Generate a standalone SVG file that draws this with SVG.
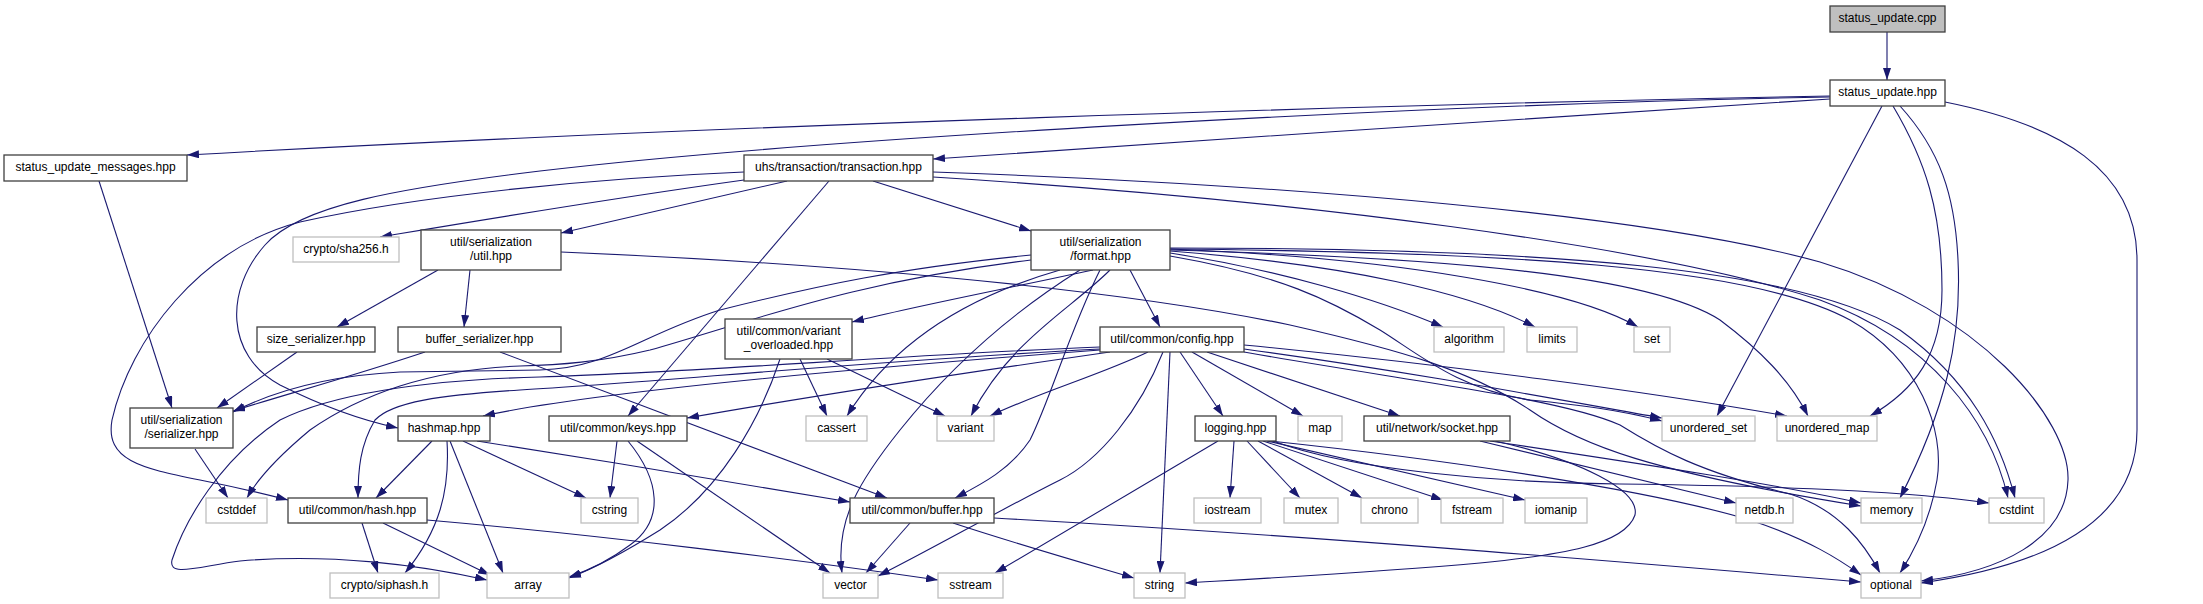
<svg xmlns="http://www.w3.org/2000/svg" width="2203" height="604" viewBox="0 0 2203 604">
<style>
.n rect{fill:#fff;stroke:#404040;stroke-width:1.3}
.g rect{fill:#fff;stroke:#bfbfbf;stroke-width:1.3}
.r rect{fill:#bfbfbf;stroke:#404040;stroke-width:1.3}
text{font-family:"Liberation Sans",Arial,sans-serif;font-size:12px;text-anchor:middle;fill:#000}
.e path{fill:none;stroke:#191970;stroke-width:1.1;marker-end:url(#a)}
</style>
<defs>
<marker id="a" viewBox="0 0 12 8" refX="12" refY="4" markerWidth="12" markerHeight="8" markerUnits="userSpaceOnUse" orient="auto"><path d="M0,0 L12,4 L0,8 z" fill="#191970"/></marker>
</defs>
<rect width="2203" height="604" fill="#fff"/>
<g id="edges" class="e">
<path d="M1887,32 L1887,80"/>
<path d="M1830,96 C1400,104 700,126 187,155"/>
<path d="M1830,99 C1600,114 1200,140 933,159"/>
<path d="M1830,97 C1400,105 800,140 540,171 C400,188 300,205 265,245 C225,290 225,355 280,385 C320,405 360,420 398,428"/>
<path d="M1882,106 L1717,416"/>
<path d="M1893,106 C1925,160 1942,210 1942,290 C1942,355 1915,390 1870,416"/>
<path d="M1900,106 C1940,150 1955,195 1958,260 C1962,340 1945,410 1900,498"/>
<path d="M1945,102 C2060,125 2137,170 2137,260 L2137,430 C2137,520 2050,565 1921,583"/>
<path d="M99,181 L172,408"/>
<path d="M744,180 C600,200 470,222 380,237"/>
<path d="M787,181 L561,233"/>
<path d="M873,181 L1031,231"/>
<path d="M829,181 L628,416"/>
<path d="M744,172 C600,178 420,195 300,222 C200,248 130,340 112,420 C105,460 140,468 200,480 C240,488 265,494 288,500"/>
<path d="M933,172 C1300,185 1650,215 1820,262 C1980,310 2070,420 2068,480 C2066,540 2000,572 1921,581"/>
<path d="M933,177 C1300,200 1650,245 1820,300 C1930,340 1990,420 2008,498"/>
<path d="M438,270 L337,327"/>
<path d="M470,270 L464,327"/>
<path d="M561,252 C800,262 1100,285 1290,325 C1400,350 1470,370 1530,410 C1580,445 1650,472 1861,506"/>
<path d="M297,352 L217,408"/>
<path d="M425,352 C350,377 280,396 233,411"/>
<path d="M500,352 L887,498"/>
<path d="M1031,255 C900,268 820,285 720,310 C640,335 610,368 540,370 L400,372 C320,376 270,393 233,412"/>
<path d="M1031,260 C850,282 750,322 650,350 C600,362 560,365 520,366 C430,369 360,395 310,430 C280,455 258,478 247,498"/>
<path d="M1100,347 C900,355 700,372 540,377 C420,380 330,395 280,420 C220,460 185,520 172,560 C168,578 200,566 240,561 C330,553 420,565 487,580"/>
<path d="M1100,350 C900,365 600,390 483,416"/>
<path d="M1110,352 C950,375 800,398 687,418"/>
<path d="M1100,349 C850,362 650,383 520,390 C440,395 392,402 375,420 C360,445 358,470 358,498"/>
<path d="M1148,352 C1100,375 1040,392 990,416"/>
<path d="M1163,352 C1140,410 1100,460 1060,480 C1000,510 930,550 878,576"/>
<path d="M1170,352 L1160,573"/>
<path d="M1180,352 L1223,416"/>
<path d="M1192,352 L1303,416"/>
<path d="M1207,352 L1400,416"/>
<path d="M1244,345 C1450,365 1650,392 1787,416"/>
<path d="M1244,349 C1400,370 1550,398 1662,418"/>
<path d="M1244,352 C1400,380 1560,398 1620,425 C1660,450 1700,472 1790,494 C1840,510 1865,545 1880,573"/>
<path d="M1170,253 C1280,270 1380,300 1443,327"/>
<path d="M1170,251 C1350,265 1470,293 1535,327"/>
<path d="M1170,249 C1400,258 1575,290 1638,327"/>
<path d="M1170,256 C1280,275 1330,300 1380,330 C1420,355 1460,390 1530,400 C1580,405 1620,410 1662,421"/>
<path d="M1170,250 C1450,258 1650,275 1720,320 C1760,350 1790,380 1808,416"/>
<path d="M1170,249 C1500,252 1750,265 1850,320 C1920,360 1945,430 1937,480 C1930,520 1915,550 1900,573"/>
<path d="M1170,248 C1550,248 1800,268 1900,330 C1970,380 2000,440 2015,498"/>
<path d="M1130,270 L1160,327"/>
<path d="M1093,270 C1000,290 920,305 852,322"/>
<path d="M1060,270 C990,290 900,330 847,416"/>
<path d="M1110,270 C1070,310 1010,340 971,416"/>
<path d="M1080,270 C1000,320 940,380 900,430 C860,480 835,520 842,573"/>
<path d="M1100,270 C1070,330 1050,400 1030,440 C1010,470 980,485 955,498"/>
<path d="M800,359 L827,416"/>
<path d="M827,359 L945,416"/>
<path d="M780,359 C760,420 720,490 660,530 C620,555 590,570 569,578"/>
<path d="M432,441 L376,498"/>
<path d="M447,441 C450,490 440,530 405,573"/>
<path d="M450,441 L503,573"/>
<path d="M463,441 L586,498"/>
<path d="M477,441 C600,460 750,485 850,502"/>
<path d="M362,523 L378,573"/>
<path d="M383,523 L490,575"/>
<path d="M427,520 C600,535 800,560 938,580"/>
<path d="M617,441 L610,498"/>
<path d="M628,441 C660,480 665,520 630,545 C610,560 590,570 569,577"/>
<path d="M637,441 L830,573"/>
<path d="M910,523 L866,573"/>
<path d="M953,523 C1020,545 1090,565 1134,578"/>
<path d="M994,518 C1300,535 1600,560 1861,582"/>
<path d="M195,449 L228,498"/>
<path d="M1234,441 L1230,498"/>
<path d="M1247,441 L1300,498"/>
<path d="M1258,441 L1362,498"/>
<path d="M1263,441 L1443,500"/>
<path d="M1267,441 L1525,500"/>
<path d="M1218,441 L995,573"/>
<path d="M1270,441 C1450,460 1650,490 1750,520 C1810,540 1840,560 1861,575"/>
<path d="M1273,441 C1350,470 1500,483 1620,484 C1800,486 1920,493 1989,503"/>
<path d="M1480,441 L1736,503"/>
<path d="M1490,441 C1650,465 1780,485 1861,503"/>
<path d="M1495,441 C1580,460 1640,490 1635,515 C1625,545 1560,555 1480,563 C1380,572 1270,578 1185,583"/>
</g>
<g id="n_cpp" class="r"><rect x="1830" y="6" width="115" height="26"/><text x="1887.5" y="21.5">status_update.cpp</text></g>
<g id="n_hpp" class="n"><rect x="1830" y="80" width="115" height="26"/><text x="1887.5" y="95.5">status_update.hpp</text></g>
<g id="n_msgs" class="n"><rect x="4" y="155" width="183" height="26"/><text x="95.5" y="170.5">status_update_messages.hpp</text></g>
<g id="n_tx" class="n"><rect x="744" y="155" width="189" height="26"/><text x="838.5" y="170.5">uhs/transaction/transaction.hpp</text></g>
<g id="n_sha" class="g"><rect x="293" y="237" width="106" height="25"/><text x="346" y="252.5">crypto/sha256.h</text></g>
<g id="n_util" class="n"><rect x="421" y="230" width="140" height="40"/><text x="491" y="245.5">util/serialization</text><text x="491" y="259.5">/util.hpp</text></g>
<g id="n_format" class="n"><rect x="1031" y="230" width="139" height="40"/><text x="1100.5" y="245.5">util/serialization</text><text x="1100.5" y="259.5">/format.hpp</text></g>
<g id="n_size" class="n"><rect x="257" y="327" width="118" height="25"/><text x="316" y="342.5">size_serializer.hpp</text></g>
<g id="n_bufser" class="n"><rect x="398" y="327" width="163" height="25"/><text x="479.5" y="342.5">buffer_serializer.hpp</text></g>
<g id="n_varov" class="n"><rect x="725" y="319" width="127" height="40"/><text x="788.5" y="334.5">util/common/variant</text><text x="788.5" y="348.5">_overloaded.hpp</text></g>
<g id="n_config" class="n"><rect x="1100" y="327" width="144" height="25"/><text x="1172" y="342.5">util/common/config.hpp</text></g>
<g id="n_algorithm" class="g"><rect x="1434" y="327" width="70" height="25"/><text x="1469" y="342.5">algorithm</text></g>
<g id="n_limits" class="g"><rect x="1527" y="327" width="50" height="25"/><text x="1552" y="342.5">limits</text></g>
<g id="n_set" class="g"><rect x="1634" y="327" width="36" height="25"/><text x="1652" y="342.5">set</text></g>
<g id="n_serializer" class="n"><rect x="130" y="408" width="103" height="40"/><text x="181.5" y="423.5">util/serialization</text><text x="181.5" y="437.5">/serializer.hpp</text></g>
<g id="n_hashmap" class="n"><rect x="398" y="416" width="92" height="25"/><text x="444" y="431.5">hashmap.hpp</text></g>
<g id="n_keys" class="n"><rect x="549" y="416" width="138" height="25"/><text x="618" y="431.5">util/common/keys.hpp</text></g>
<g id="n_cassert" class="g"><rect x="806" y="416" width="61" height="25"/><text x="836.5" y="431.5">cassert</text></g>
<g id="n_variant" class="g"><rect x="937" y="416" width="57" height="25"/><text x="965.5" y="431.5">variant</text></g>
<g id="n_logging" class="n"><rect x="1195" y="416" width="81" height="25"/><text x="1235.5" y="431.5">logging.hpp</text></g>
<g id="n_map" class="g"><rect x="1298" y="416" width="44" height="25"/><text x="1320" y="431.5">map</text></g>
<g id="n_socket" class="n"><rect x="1364" y="416" width="146" height="25"/><text x="1437" y="431.5">util/network/socket.hpp</text></g>
<g id="n_uset" class="g"><rect x="1662" y="416" width="93" height="25"/><text x="1708.5" y="431.5">unordered_set</text></g>
<g id="n_umap" class="g"><rect x="1777" y="416" width="100" height="25"/><text x="1827" y="431.5">unordered_map</text></g>
<g id="n_cstddef" class="g"><rect x="206" y="498" width="61" height="25"/><text x="236.5" y="513.5">cstddef</text></g>
<g id="n_hash" class="n"><rect x="288" y="498" width="139" height="25"/><text x="357.5" y="513.5">util/common/hash.hpp</text></g>
<g id="n_cstring" class="g"><rect x="581" y="498" width="57" height="25"/><text x="609.5" y="513.5">cstring</text></g>
<g id="n_buffer" class="n"><rect x="850" y="498" width="144" height="25"/><text x="922" y="513.5">util/common/buffer.hpp</text></g>
<g id="n_iostream" class="g"><rect x="1194" y="498" width="67" height="25"/><text x="1227.5" y="513.5">iostream</text></g>
<g id="n_mutex" class="g"><rect x="1284" y="498" width="54" height="25"/><text x="1311" y="513.5">mutex</text></g>
<g id="n_chrono" class="g"><rect x="1361" y="498" width="57" height="25"/><text x="1389.5" y="513.5">chrono</text></g>
<g id="n_fstream" class="g"><rect x="1441" y="498" width="62" height="25"/><text x="1472" y="513.5">fstream</text></g>
<g id="n_iomanip" class="g"><rect x="1525" y="498" width="62" height="25"/><text x="1556" y="513.5">iomanip</text></g>
<g id="n_netdb" class="g"><rect x="1736" y="498" width="57" height="25"/><text x="1764.5" y="513.5">netdb.h</text></g>
<g id="n_memory" class="g"><rect x="1861" y="498" width="61" height="25"/><text x="1891.5" y="513.5">memory</text></g>
<g id="n_cstdint" class="g"><rect x="1989" y="498" width="55" height="25"/><text x="2016.5" y="513.5">cstdint</text></g>
<g id="n_siphash" class="g"><rect x="330" y="573" width="109" height="25"/><text x="384.5" y="588.5">crypto/siphash.h</text></g>
<g id="n_array" class="g"><rect x="487" y="573" width="82" height="25"/><text x="528" y="588.5">array</text></g>
<g id="n_vector" class="g"><rect x="823" y="573" width="55" height="25"/><text x="850.5" y="588.5">vector</text></g>
<g id="n_sstream" class="g"><rect x="938" y="573" width="65" height="25"/><text x="970.5" y="588.5">sstream</text></g>
<g id="n_string" class="g"><rect x="1134" y="573" width="51" height="25"/><text x="1159.5" y="588.5">string</text></g>
<g id="n_optional" class="g"><rect x="1861" y="573" width="60" height="25"/><text x="1891" y="588.5">optional</text></g>
</svg>
